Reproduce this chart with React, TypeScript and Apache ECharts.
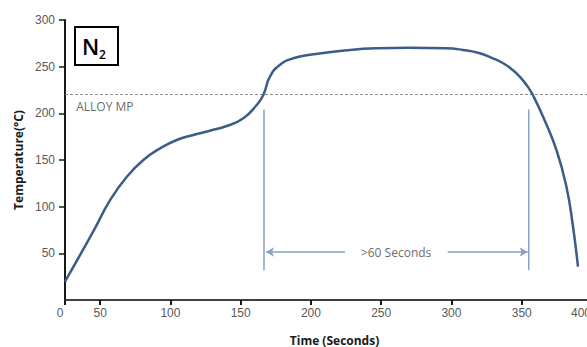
import React, { useEffect, useRef } from "react";
import * as echarts from "echarts";

// Curve (x in axis units; the axis origin labelled "0" sits at 25)
const timeSec = [25, 36, 46, 57.1, 69, 80.8, 92.7, 104.5, 116.3, 128.2, 140.1, 151.9, 161.4, 166.1, 170.8, 177.8, 187.4, 201.7, 220.6, 246.7, 270, 296.5, 308.1, 320.2, 329.4, 336.5, 343.6, 348.6, 354.3, 357.9, 365.2, 374.7, 381.8, 386.5, 390];
const temperature = [19.6, 49, 76, 107, 132.1, 150, 162.5, 171.4, 176.8, 181.4, 186.4, 194.7, 208.9, 219.6, 239.3, 251.8, 259, 263.2, 266.8, 269.7, 270.2, 269.7, 267.9, 264.3, 258.9, 253.9, 246.4, 239.3, 228.6, 219.6, 196.4, 160.7, 121.4, 78.5, 35.7];

const xTickValues = [25, 50, 100, 150, 200, 250, 300, 350, 400];
const xTickLabels = ["0", "50", "100", "150", "200", "250", "300", "350", "400"];

const alloyMP = 220;
const windowStart = 166.6;
const windowEnd = 355;
const windowTop = 204;
const windowBottom = 32;
const arrowLevel = 51.4;
const leftArrowEnd = 224.2;
const rightArrowStart = 297.3;
const labelX = 260.6;

export default function App() {
  const ref = useRef<HTMLDivElement>(null);
  useEffect(() => {
    const chart = echarts.init(ref.current!, null, { renderer: "svg" });
    const lineBlue = "#3d5c87";
    const lightBlue = "#86a3c3";
    chart.setOption({
      animation: false,
      grid: { left: 65, top: 20, bottom: 47, right: -5, containLabel: false, outerBoundsMode: "none" },
      xAxis: [
        {
          type: "value",
          min: 25,
          max: 400,
          name: "Time (Seconds)",
          nameLocation: "middle",
          nameGap: 34,
          nameTextStyle: { fontFamily: "Open Sans", fontWeight: "bold", fontSize: 12, color: "#1a1a1a", padding: [0, 0, 0, 12] },
          axisLine: { onZero: false, lineStyle: { color: "#1a1a1a", width: 2 } },
          axisTick: { show: true, length: 5, customValues: xTickValues, lineStyle: { color: "#1a1a1a", width: 2 } },
          axisLabel: {
            customValues: xTickValues,
            margin: 7,
            fontFamily: "Liberation Sans",
            fontSize: 12,
            color: "#595959",
            formatter: (v: number) => {
              const i = xTickValues.indexOf(v);
              const s = i >= 0 ? xTickLabels[i] : String(v);
              if (v === 25) return "{l|" + s + "}";
              if (v === 400) return "{r|" + s + "}";
              return s;
            },
            rich: {
              l: { padding: [0, 10, 0, 0], fontFamily: "Liberation Sans", fontSize: 12, color: "#595959" },
              r: { padding: [0, 22, 0, 0], fontFamily: "Liberation Sans", fontSize: 12, color: "#595959" },
            },
          },
          splitLine: { show: false },
        },
        {
          type: "value",
          position: "top",
          min: 25,
          max: 400,
          axisLine: { show: true, lineStyle: { color: "#4d4d4d", width: 1.5 } },
          axisTick: { show: false },
          axisLabel: { show: false },
          splitLine: { show: false },
        },
      ],
      yAxis: {
        type: "value",
        min: 0,
        max: 300,
        interval: 50,
        name: "Temperature(°C)",
        nameLocation: "middle",
        nameGap: 40,
        nameTextStyle: { fontFamily: "Open Sans", fontWeight: "bold", fontSize: 12, color: "#1a1a1a" },
        axisLine: { show: true, lineStyle: { color: "#1a1a1a", width: 2 } },
        axisTick: { show: true, length: 6, lineStyle: { color: "#1a1a1a", width: 1.5 } },
        axisLabel: { showMinLabel: false, margin: 10, fontFamily: "Liberation Sans", fontSize: 12, color: "#595959" },
        splitLine: { show: false },
      },
      series: [
        {
          type: "line",
          data: timeSec.map((t, i) => [t, temperature[i]]),
          smooth: 0.5,
          showSymbol: false,
          lineStyle: { color: lineBlue, width: 2.5 },
          itemStyle: { color: lineBlue },
          z: 5,
          markLine: {
            silent: true,
            symbol: "none",
            label: { show: false },
            lineStyle: { color: "#8c8c8c", type: [3, 2], width: 1 },
            data: [{ yAxis: alloyMP }],
          },
        },
        {
          type: "line",
          data: [[windowStart, windowTop], [windowStart, windowBottom]],
          showSymbol: false,
          lineStyle: { color: lightBlue, width: 1.5 },
          z: 3,
        },
        {
          type: "line",
          data: [[windowEnd, windowTop], [windowEnd, windowBottom]],
          showSymbol: false,
          lineStyle: { color: lightBlue, width: 1.5 },
          z: 3,
          markLine: {
            silent: true,
            symbolSize: [7, 8],
            label: { show: false },
            lineStyle: { color: lightBlue, width: 1.5, type: "solid" },
            data: [
              [
                { coord: [windowStart + 1.4, arrowLevel], symbol: "arrow" },
                { coord: [leftArrowEnd, arrowLevel], symbol: "none" },
              ],
              [
                { coord: [rightArrowStart, arrowLevel], symbol: "none" },
                { coord: [windowEnd - 0.8, arrowLevel], symbol: "arrow" },
              ],
            ],
          },
        },
        {
          type: "scatter",
          symbolSize: 0,
          data: [[labelX, arrowLevel]],
          label: {
            show: true,
            position: "inside",
            formatter: ">60 Seconds",
            fontFamily: "Open Sans",
            fontSize: 12,
            color: "#404040",
          },
        },
        {
          type: "scatter",
          symbolSize: 0,
          data: [[33, 207]],
          label: {
            show: true,
            position: "inside",
            align: "left",
            verticalAlign: "middle",
            formatter: "ALLOY MP",
            fontFamily: "Open Sans",
            fontSize: 12,
            color: "#404040",
          },
        },
      ],
      graphic: [
        {
          type: "group",
          children: [
            { type: "rect", shape: { x: 75, y: 27, width: 43, height: 38 }, style: { fill: "#fff", stroke: "#000", lineWidth: 2 } },
            { type: "text", x: 82, y: 35, style: { text: "N", fontFamily: "Open Sans", fontWeight: 600, fontSize: 22, fill: "#000" } },
            { type: "text", x: 99, y: 48, style: { text: "2", fontFamily: "Open Sans", fontWeight: 600, fontSize: 12, fill: "#000" } },
          ],
        },
      ],
    });
    return () => chart.dispose();
  }, []);
  return <div ref={ref} style={{ position: "absolute", left: 0, top: 0, width: 587, height: 347 }} />;
}
